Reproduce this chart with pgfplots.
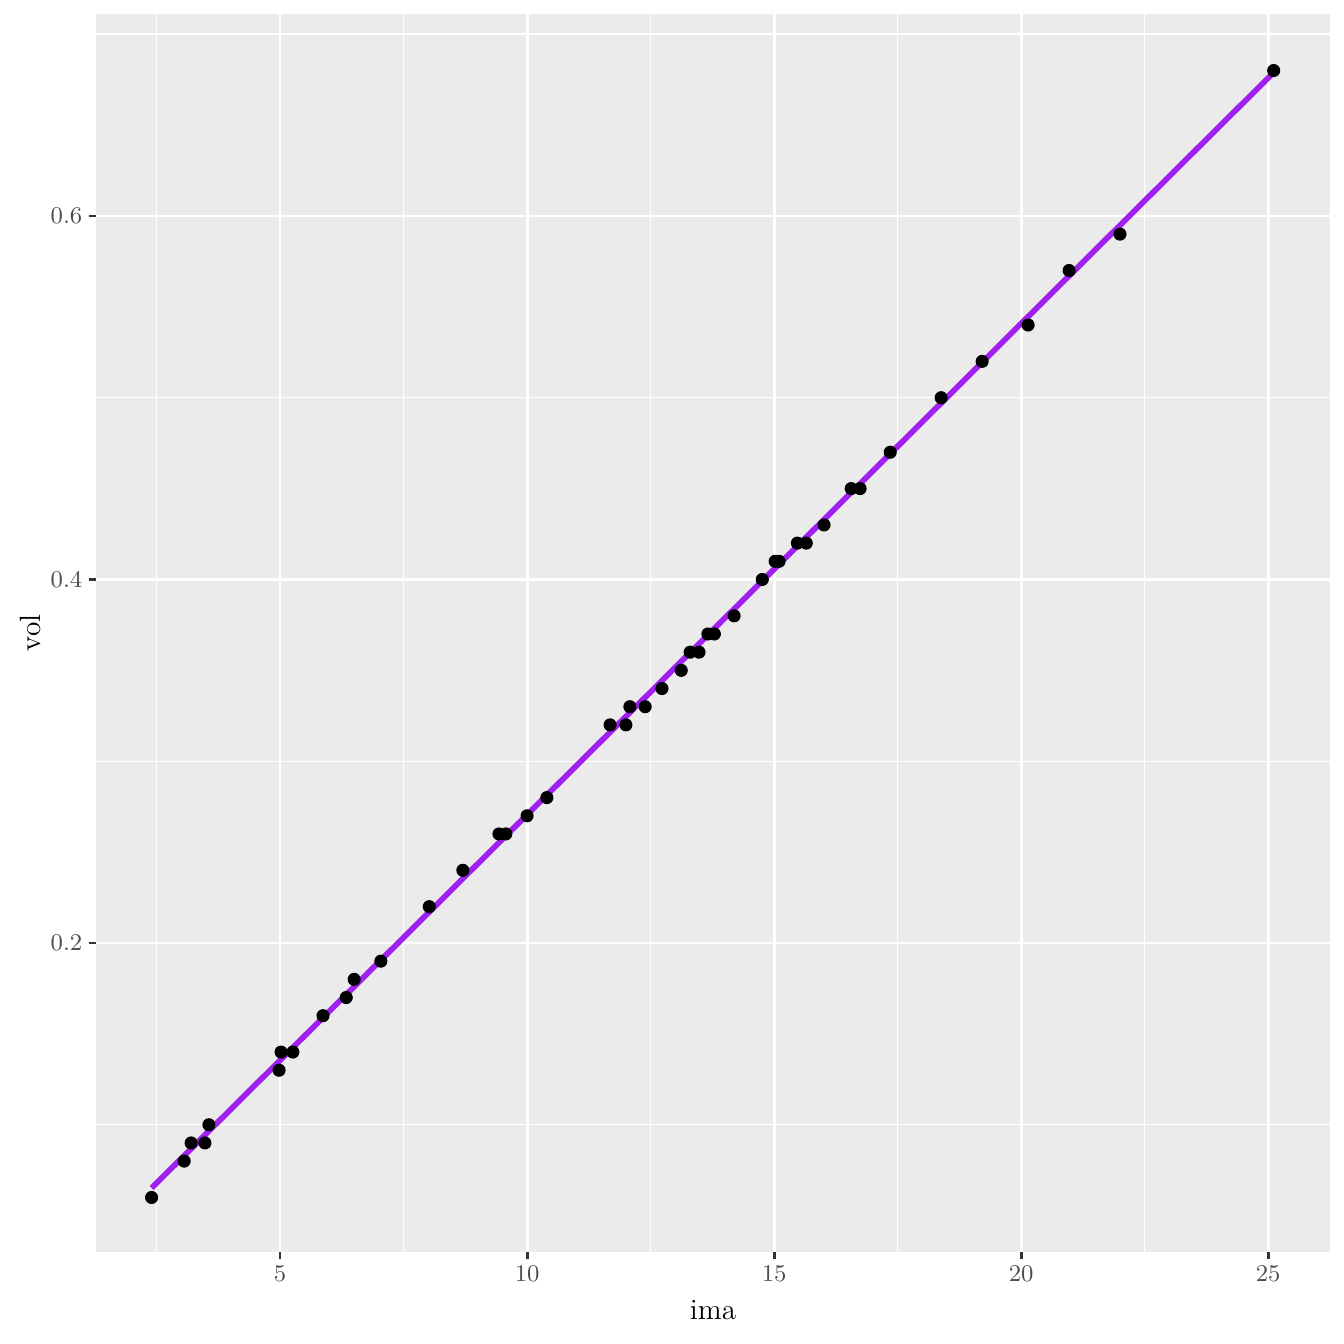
\documentclass[border=0pt]{standalone}
\usepackage{pgfplots}
\pgfplotsset{compat=1.18}
\definecolor{panelbg}{HTML}{EBEBEB}
\definecolor{gfit}{HTML}{A020F0}
\definecolor{tickc}{HTML}{333333}
\definecolor{ticklab}{HTML}{4D4D4D}
\pgfplotstableread{
x y
2.40 0.06
3.06 0.08
3.20 0.09
3.48 0.09
3.56 0.10
4.98 0.13
5.02 0.14
5.26 0.14
5.87 0.16
6.34 0.17
6.50 0.18
7.04 0.19
8.02 0.22
8.70 0.24
9.43 0.26
9.57 0.26
10.00 0.27
10.40 0.28
11.68 0.32
12.00 0.32
12.08 0.33
12.39 0.33
12.73 0.34
13.12 0.35
13.30 0.36
13.48 0.36
13.66 0.37
13.79 0.37
14.19 0.38
14.76 0.40
15.02 0.41
15.10 0.41
15.47 0.42
15.65 0.42
16.01 0.43
16.56 0.45
16.74 0.45
17.35 0.47
18.38 0.50
19.21 0.52
20.14 0.54
20.97 0.57
22.00 0.59
25.11 0.68
}\pts
\begin{document}
\begin{tikzpicture}
\useasboundingbox (0,0) rectangle (504pt,504pt);
\begin{axis}[
  at={(36pt,34.5pt)}, anchor=south west,
  scale only axis, width=462.75pt, height=464.25pt,
  xmin=1.275, xmax=26.25, ymin=0.030, ymax=0.7111,
  axis background/.style={fill=panelbg},
  axis line style={draw=none},
  xtick={5,10,15,20,25}, ytick={0.2,0.4,0.6},
  minor xtick={2.5,7.5,12.5,17.5,22.5}, minor ytick={0.1,0.3,0.5,0.7},
  grid=both,
  major grid style={white, line width=1.07pt},
  minor grid style={white, line width=0.53pt},
  major tick style={tickc, line width=1.07pt},
  major tick length=2.75pt, minor tick length=0pt,
  tick align=outside, xtick pos=bottom, ytick pos=left,
  every tick label/.append style={inner sep=0pt, font=\fontsize{8.8}{10}\selectfont, text=ticklab},
  xticklabel shift=2.2pt, yticklabel shift=2.2pt,
  yticklabel style={/pgf/number format/fixed, /pgf/number format/precision=1},
  xlabel={ima}, ylabel={vol},
  label style={font=\fontsize{11}{13}\selectfont, text=black},
  xlabel style={at={(axis description cs:0.5,-0.04685)}, anchor=center},
  ylabel style={at={(axis description cs:-0.05348,0.5)}, anchor=center},
  clip=true,
]
\addplot[only marks, mark=*, mark size=2.25pt, mark options={draw=black, fill=black}] table[x=x,y=y] {\pts};
\addplot[gfit, line width=2.13pt, line cap=butt] coordinates {(2.40,0.0652) (25.11,0.6789)};
\end{axis}
\end{tikzpicture}
\end{document}
